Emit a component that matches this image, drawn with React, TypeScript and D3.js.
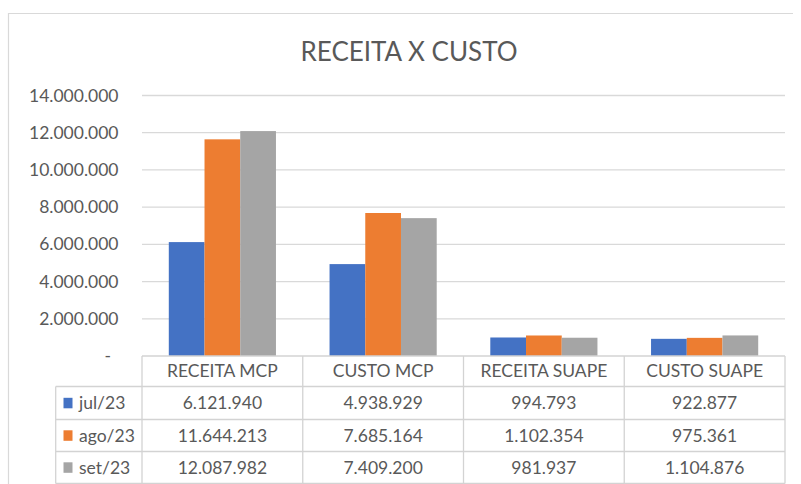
import React from "react";
import * as d3 from "d3";

const categories = ["RECEITA MCP", "CUSTO MCP", "RECEITA SUAPE", "CUSTO SUAPE"];
const seriesNames = ["jul/23", "ago/23", "set/23"];
const jul23 = [6121940, 4938929, 994793, 922877];
const ago23 = [11644213, 7685164, 1102354, 975361];
const set23 = [12087982, 7409200, 981937, 1104876];
const yTicks = [0, 2000000, 4000000, 6000000, 8000000, 10000000, 12000000, 14000000];
const colors = ["#4472C4", "#ED7D31", "#A5A5A5"];
const title = "RECEITA X CUSTO";

const seriesValues = [jul23, ago23, set23];

const W = 801;
const H = 484;
const FONT = "Lato, 'Noto Sans', sans-serif";
const TXT = "#595959";
const GRID = "#d9d9d9";
const BORDER = "#d3d3d3";

const fmt = (v: number) =>
  v === 0 ? "-" : Math.round(v).toString().replace(/\B(?=(\d{3})+(?!\d))/g, ".");

export default function App() {
  const plotLeft = 142;
  const plotRight = 785;
  const y = d3.scaleLinear().domain([0, 14000000]).range([356, 95.5]);
  const x = d3.scaleBand<string>().domain(categories).range([plotLeft, plotRight]).padding(0);
  const bw = x.bandwidth();
  const barW = bw / 4.5;
  const xs = d3
    .scaleBand<string>()
    .domain(seriesNames)
    .range([0.75 * barW, bw - 0.75 * barW])
    .padding(0);

  const rowYs = [356, 386.5, 419.5, 451.5, 483.5];
  const legendLeft = 55.7;

  return (
    <svg
      width={W}
      height={H}
      style={{ position: "absolute", left: 0, top: 0, background: "#fff" }}
      fontFamily={FONT}
    >
      <rect x={0} y={0} width={W} height={H} fill="#fff" />
      {/* chart border */}
      <line x1={8} y1={13.5} x2={793} y2={13.5} stroke={GRID} strokeWidth={1.2} />
      <line x1={8.5} y1={13} x2={8.5} y2={H} stroke={GRID} strokeWidth={1.2} />

      {/* title */}
      <text x={409} y={51.7} dy="0.35em" textAnchor="middle" fontSize={26} fill={TXT}>
        {title}
      </text>

      {/* gridlines */}
      {yTicks
        .filter((t) => t > 0)
        .map((t) => (
          <line key={t} x1={plotLeft} x2={plotRight} y1={y(t)} y2={y(t)} stroke={GRID} strokeWidth={1.3} />
        ))}
      {/* y tick labels */}
      {yTicks.map((t) => (
        <text
          key={"l" + t}
          x={t === 0 ? 111 : 118.5}
          y={y(t)}
          dy="0.35em"
          textAnchor="end"
          fontSize={17.5}
          fill={TXT}
        >
          {fmt(t)}
        </text>
      ))}

      {/* bars */}
      {categories.map((c, ci) =>
        seriesNames.map((s, si) => {
          const v = seriesValues[si][ci];
          const bx = (x(c) as number) + (xs(s) as number);
          return (
            <rect
              key={c + s}
              x={bx}
              y={y(v)}
              width={xs.bandwidth()}
              height={y(0) - y(v)}
              fill={colors[si]}
            />
          );
        })
      )}

      {/* data table lines */}
      <line x1={plotLeft} x2={plotRight} y1={rowYs[0]} y2={rowYs[0]} stroke={BORDER} strokeWidth={1.3} />
      {rowYs.slice(1).map((ry) => (
        <line key={"h" + ry} x1={legendLeft} x2={plotRight} y1={ry} y2={ry} stroke={BORDER} strokeWidth={1.3} />
      ))}
      <line x1={legendLeft} x2={legendLeft} y1={rowYs[1]} y2={rowYs[4]} stroke={BORDER} strokeWidth={1.3} />
      {categories.map((c) => (
        <line
          key={"v" + c}
          x1={x(c) as number}
          x2={x(c) as number}
          y1={rowYs[0]}
          y2={rowYs[4]}
          stroke={BORDER}
          strokeWidth={1.3}
        />
      ))}
      <line x1={plotRight} x2={plotRight} y1={rowYs[0]} y2={rowYs[4]} stroke={BORDER} strokeWidth={1.3} />

      {/* header */}
      {categories.map((c) => (
        <text
          key={"hd" + c}
          x={(x(c) as number) + bw / 2}
          y={(rowYs[0] + rowYs[1]) / 2}
          dy="0.35em"
          textAnchor="middle"
          fontSize={17.5}
          fill={TXT}
        >
          {c}
        </text>
      ))}

      {/* rows */}
      {seriesNames.map((s, si) => {
        const cy = (rowYs[si + 1] + rowYs[si + 2]) / 2;
        return (
          <g key={"r" + s}>
            <rect x={63.5} y={cy - 5.2} width={9} height={10.5} fill={colors[si]} />
            <text x={79} y={cy} dy="0.35em" fontSize={17.5} fill={TXT}>
              {s}
            </text>
            {categories.map((c, ci) => (
              <text
                key={"c" + c}
                x={(x(c) as number) + bw / 2}
                y={cy}
                dy="0.35em"
                textAnchor="middle"
                fontSize={17.5}
                fill={TXT}
              >
                {fmt(seriesValues[si][ci])}
              </text>
            ))}
          </g>
        );
      })}
    </svg>
  );
}
